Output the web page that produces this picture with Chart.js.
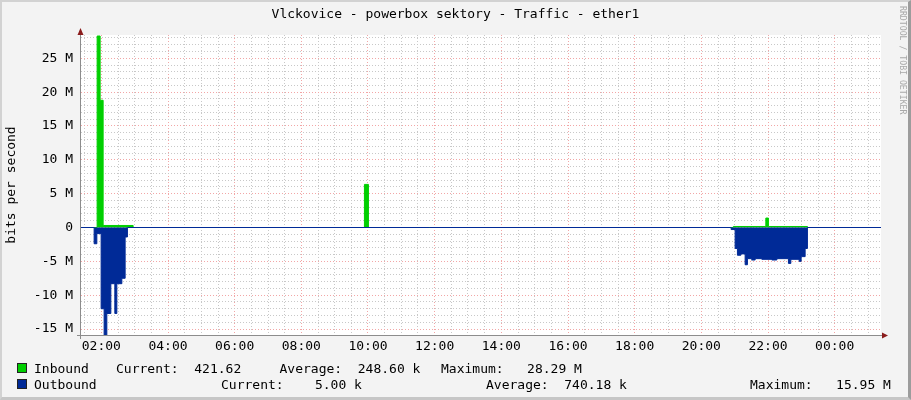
<!DOCTYPE html>
<html>
<head>
<meta charset="utf-8">
<script src="https://cdn.jsdelivr.net/npm/chart.js@4.4.1/dist/chart.umd.min.js"></script>
<style>
  html, body { margin: 0; padding: 0; background: #f3f3f3; }
  #wrap { position: relative; width: 911px; height: 400px; overflow: hidden; background: #f3f3f3;
          font-family: "DejaVu Sans Mono", monospace; font-size: 13px; color: #000; }
  #c { position: absolute; left: 0; top: 0; }
  .txt { position: absolute; white-space: pre; line-height: 15px; }
  .box { position: absolute; width: 8px; height: 8px; border: 1px solid #222; }
  #frame { position: absolute; left: 0; top: 0; width: 911px; height: 400px; box-sizing: border-box;
           border-top: 2px solid #d2d2d2; border-left: 2px solid #d2d2d2;
           border-right: 3px solid #9c9c9c; border-bottom: 3px solid #c6c6c6; pointer-events: none; }
  #rrd { position: absolute; left: 898px; top: 6px; writing-mode: vertical-rl; font-size: 8.2px;
         line-height: 9px; color: #a8a8a8; white-space: pre; }
</style>
</head>
<body>
<div id="wrap">
  <canvas id="c" width="911" height="400"></canvas>
  <div class="txt" id="title" style="left:0;top:6px;width:911px;text-align:center;"></div>
  <div id="legend"></div>
  <div id="rrd">RRDTOOL / TOBI OETIKER</div>
  <div id="frame"></div>
</div>
<script>
// ---------- data (time in hours of day; 24 = next midnight) ----------
const chartTitle = 'Vlckovice - powerbox sektory - Traffic - ether1';
const yAxisTitle = 'bits per second';

const inboundHours = [1.39, 1.874, 1.964, 2.054, 2.954, 9.893, 10.013, 20.96, 21.935, 22.013, 23.183, 25.39];
const inboundBps   = [0, 28.29e6, 18.8e6, 0.3e6, 0, 6.37e6, 0, 0.15e6, 1.4e6, 0.15e6, 0, 0];

const outboundHours = [1.39, 1.784, 1.865, 1.994, 2.084, 2.165, 2.285, 2.405, 2.465, 2.615, 2.714, 2.783,
                       20.894, 21.014, 21.083, 21.185, 21.314, 21.383, 21.515, 21.614, 21.815, 22.115,
                       22.265, 22.613, 22.685, 22.934, 22.994, 23.114, 23.183, 25.39];
const outboundBps   = [0, -2.4e6, -0.9e6, -12.0e6, -15.95e6, -12.7e6, -8.3e6, -12.7e6, -8.3e6, -7.5e6, -1.4e6, 0,
                       -0.3e6, -3.1e6, -4.1e6, -3.9e6, -5.5e6, -4.6e6, -4.8e6, -4.6e6, -4.7e6, -4.8e6,
                       -4.6e6, -5.3e6, -4.7e6, -5.0e6, -4.3e6, -3.1e6, 0, 0];

const xLabelHours = [2, 4, 6, 8, 10, 12, 14, 16, 18, 20, 22, 24];
const xLabels     = ['02:00', '04:00', '06:00', '08:00', '10:00', '12:00', '14:00', '16:00', '18:00', '20:00', '22:00', '00:00'];
const yLabelValues = [25e6, 20e6, 15e6, 10e6, 5e6, 0, -5e6, -10e6, -15e6];
const yLabels      = ['25 M', '20 M', '15 M', '10 M', '5 M', '0', '-5 M', '-10 M', '-15 M'];

const legendNames   = ['Inbound', 'Outbound'];
const legendCurrent = ['  421.62  ', '    5.00 k'];
const legendAverage = ['  248.60 k', '  740.18 k'];
const legendMaximum = ['   28.29 M', '   15.95 M'];

const xRange = [1.39, 25.39];
const yRange = [-15.88e6, 28.44e6];

// ---------- styling ----------
const GREEN = '#00CF00';
const BLUE = '#002A97';
const GRID_MINOR = '#c8c8c8';
const GRID_MAJOR = '#f2a6a6';

document.getElementById('title').textContent = chartTitle;

// legend (HTML text) : name, Current, Average, Maximum start positions per row
const legendLayout = [
  { top: 361, box: 363, cols: [34, 116, 279.5, 441] },
  { top: 377, box: 379, cols: [34, 221, 486, 750] }
];
const colors = [GREEN, BLUE];
const lg = document.getElementById('legend');
legendLayout.forEach((row, i) => {
  const b = document.createElement('div');
  b.className = 'box';
  b.style.left = '17px'; b.style.top = row.box + 'px'; b.style.background = colors[i];
  lg.appendChild(b);
  const texts = [legendNames[i], 'Current:' + legendCurrent[i], 'Average:' + legendAverage[i], 'Maximum:' + legendMaximum[i]];
  texts.forEach((t, j) => {
    const s = document.createElement('div');
    s.className = 'txt';
    s.style.left = row.cols[j] + 'px';
    s.style.top = row.top + 'px';
    s.textContent = t;
    lg.appendChild(s);
  });
});

// minor grid positions (every 30 min, every 1 M)
const xGridHours = [];
for (let h = 1.5; h <= 25.3; h += 0.5) xGridHours.push(Math.round(h * 10) / 10);
const yGridValues = [];
for (let v = -15; v <= 28; v++) yGridValues.push(v * 1e6);

const rrdFrame = {
  id: 'rrdFrame',
  beforeDraw(chart) {
    const { ctx, chartArea: a } = chart;
    ctx.save();
    ctx.fillStyle = '#ffffff';
    ctx.fillRect(a.left, a.top, a.right - a.left, a.bottom - a.top);
    ctx.restore();
  },
  afterDatasetsDraw(chart) {
    const { ctx, chartArea: a } = chart;
    ctx.save();
    ctx.strokeStyle = '#8c8c8c';
    ctx.lineWidth = 1;
    ctx.beginPath();
    ctx.moveTo(a.left - 0.5, a.bottom + 4);
    ctx.lineTo(a.left - 0.5, a.top - 2);
    ctx.moveTo(a.left - 4, a.bottom + 0.5);
    ctx.lineTo(a.right + 2, a.bottom + 0.5);
    ctx.stroke();
    ctx.fillStyle = '#8b1c1c';
    ctx.beginPath();
    ctx.moveTo(a.left - 3.5, a.top);
    ctx.lineTo(a.left + 2.5, a.top);
    ctx.lineTo(a.left - 0.5, a.top - 7);
    ctx.closePath();
    ctx.fill();
    ctx.beginPath();
    ctx.moveTo(a.right + 1, a.bottom - 2.5);
    ctx.lineTo(a.right + 1, a.bottom + 3.5);
    ctx.lineTo(a.right + 7, a.bottom + 0.5);
    ctx.closePath();
    ctx.fill();
    ctx.restore();
  }
};

const toPts = (xs, ys) => xs.map((x, i) => ({ x, y: ys[i] }));

new Chart(document.getElementById('c'), {
  type: 'line',
  data: {
    datasets: [
      {
        label: 'Outbound',
        data: toPts(outboundHours, outboundBps),
        stepped: 'before',
        borderColor: BLUE,
        backgroundColor: BLUE,
        borderWidth: 1,
        fill: 'origin',
        pointRadius: 0,
        order: 0
      },
      {
        label: 'Inbound',
        data: toPts(inboundHours, inboundBps),
        stepped: 'before',
        borderColor: GREEN,
        backgroundColor: GREEN,
        borderWidth: 1,
        fill: 'origin',
        pointRadius: 0,
        order: 1
      }
    ]
  },
  options: {
    responsive: false,
    devicePixelRatio: 1,
    animation: false,
    layout: { padding: { top: 35, right: 30, bottom: 0, left: 0 } },
    font: { family: 'DejaVu Sans Mono', size: 13 },
    plugins: { legend: { display: false }, tooltip: { enabled: false }, title: { display: false } },
    scales: {
      x: {
        type: 'linear',
        min: xRange[0],
        max: xRange[1],
        afterBuildTicks: (s) => { s.ticks = xGridHours.map(v => ({ value: v })); },
        afterFit: (s) => { s.height = 65; },
        ticks: {
          autoSkip: false, maxRotation: 0, minRotation: 0, padding: 4,
          color: '#000',
          font: { family: 'DejaVu Sans Mono', size: 13 },
          callback: (v) => { const i = xLabelHours.indexOf(v); return i >= 0 ? xLabels[i] : ''; }
        },
        grid: {
          drawTicks: false,
          lineWidth: 1,
          color: (ctx) => (ctx.tick && xLabelHours.indexOf(ctx.tick.value) >= 0) ? GRID_MAJOR : GRID_MINOR
        },
        border: { display: false, dash: [1, 2] }
      },
      y: {
        type: 'linear',
        min: yRange[0],
        max: yRange[1],
        afterBuildTicks: (s) => { s.ticks = yGridValues.map(v => ({ value: v })); },
        afterFit: (s) => { s.width = 81; },
        ticks: {
          autoSkip: false, padding: 8,
          color: '#000',
          font: { family: 'DejaVu Sans Mono', size: 13 },
          callback: (v) => { const i = yLabelValues.indexOf(v); return i >= 0 ? yLabels[i] : ''; }
        },
        grid: {
          drawTicks: false,
          lineWidth: 1,
          color: (ctx) => (ctx.tick && yLabelValues.indexOf(ctx.tick.value) >= 0) ? GRID_MAJOR : GRID_MINOR
        },
        border: { display: false, dash: [1, 2] },
        title: {
          display: true,
          text: yAxisTitle,
          color: '#000',
          font: { family: 'DejaVu Sans Mono', size: 13 },
          padding: { top: 4, bottom: 0 }
        }
      }
    }
  },
  plugins: [rrdFrame]
});
</script>
</body>
</html>
